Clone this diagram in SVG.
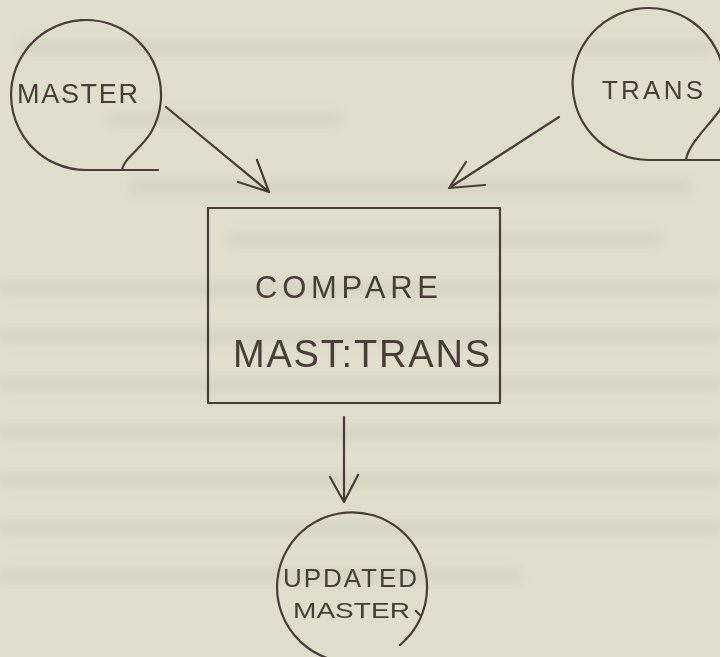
<svg xmlns="http://www.w3.org/2000/svg" width="720" height="657" viewBox="0 0 720 657">
<defs>
<style>
.ink{fill:none;stroke:#4a3c38;stroke-width:2.2;stroke-linecap:round;stroke-linejoin:round}
.lbl{font-family:"Liberation Sans","DejaVu Sans",sans-serif;fill:#4a3c38;font-weight:normal}
.band{fill:#c9c9b6;opacity:0.45}
</style>
<filter id="blur" x="-5%" y="-50%" width="110%" height="200%"><feGaussianBlur stdDeviation="4"/></filter>
</defs>
<rect width="720" height="657" fill="#dedecb"/>
<g filter="url(#blur)">
<rect class="band" x="20" y="40" width="690" height="14"/>
<rect class="band" x="110" y="112" width="230" height="14"/>
<rect class="band" x="130" y="180" width="560" height="14"/>
<rect class="band" x="230" y="232" width="430" height="14"/>
<rect class="band" x="0" y="282" width="720" height="14"/>
<rect class="band" x="0" y="330" width="720" height="14"/>
<rect class="band" x="0" y="378" width="720" height="14"/>
<rect class="band" x="0" y="426" width="720" height="14"/>
<rect class="band" x="0" y="474" width="720" height="14"/>
<rect class="band" x="0" y="522" width="720" height="14"/>
<rect class="band" x="0" y="568" width="520" height="14"/>
</g>
<g id="connectors">
<path class="ink" d="M166 107 L269 192 M257 160 L269 192 L238 182"/>
<path class="ink" d="M559 117 L449 188 M466 162 L449 188 L485 185"/>
<path class="ink" d="M344 417 L344 502 M330 477 L344 502 L358 475"/>
</g>
<g id="master">
<path class="ink" d="M158 170 L86 170 A75 75 0 1 1 151 132.5 C140 150 124 158 122 170"/>
<text class="lbl" x="17" y="103" font-size="27" textLength="121" lengthAdjust="spacing">MASTER</text>
</g>
<g id="trans">
<path class="ink" d="M722 160 L649 160 A76 76 0 1 1 720 110 C705 130 688 145 686 160"/>
<text class="lbl" x="602" y="99" font-size="26" textLength="101" lengthAdjust="spacing">TRANS</text>
</g>
<g id="compare">
<rect class="ink" x="208" y="208" width="292" height="195"/>
<text class="lbl" x="255" y="298" font-size="31" textLength="183" lengthAdjust="spacing">COMPARE</text>
<text class="lbl" x="233" y="367" font-size="38" textLength="257" lengthAdjust="spacing">MAST:TRANS</text>
</g>
<g id="updated">
<path class="ink" d="M400 645 A75 75 0 1 0 327 658"/>
<path class="ink" d="M416 611 L420 615"/>
<text class="lbl" x="283" y="587" font-size="26" textLength="134" lengthAdjust="spacing">UPDATED</text>
<text class="lbl" x="293" y="618" font-size="22" textLength="117" lengthAdjust="spacingAndGlyphs">MASTER</text>
</g>
</svg>
